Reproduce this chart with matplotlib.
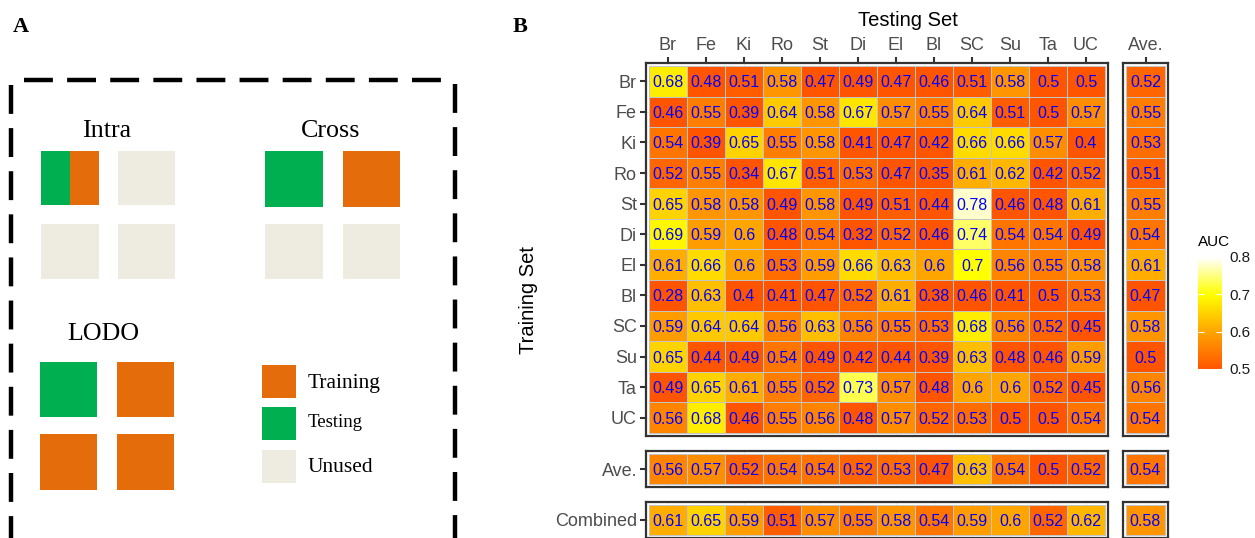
import numpy as np
import matplotlib
matplotlib.use("Agg")
import matplotlib.pyplot as plt
from matplotlib.colors import LinearSegmentedColormap, Normalize
from matplotlib.patches import Rectangle
from matplotlib.cm import ScalarMappable

# ---------------- data ----------------
datasets = ["Br", "Fe", "Ki", "Ro", "St", "Di", "El", "Bl", "SC", "Su", "Ta", "UC"]

auc_br = [0.68, 0.48, 0.51, 0.58, 0.47, 0.49, 0.47, 0.46, 0.51, 0.58, 0.50, 0.50]
auc_fe = [0.46, 0.55, 0.39, 0.64, 0.58, 0.67, 0.57, 0.55, 0.64, 0.51, 0.50, 0.57]
auc_ki = [0.54, 0.39, 0.65, 0.55, 0.58, 0.41, 0.47, 0.42, 0.66, 0.66, 0.57, 0.40]
auc_ro = [0.52, 0.55, 0.34, 0.67, 0.51, 0.53, 0.47, 0.35, 0.61, 0.62, 0.42, 0.52]
auc_st = [0.65, 0.58, 0.58, 0.49, 0.58, 0.49, 0.51, 0.44, 0.78, 0.46, 0.48, 0.61]
auc_di = [0.69, 0.59, 0.60, 0.48, 0.54, 0.32, 0.52, 0.46, 0.74, 0.54, 0.54, 0.49]
auc_el = [0.61, 0.66, 0.60, 0.53, 0.59, 0.66, 0.63, 0.60, 0.70, 0.56, 0.55, 0.58]
auc_bl = [0.28, 0.63, 0.40, 0.41, 0.47, 0.52, 0.61, 0.38, 0.46, 0.41, 0.50, 0.53]
auc_sc = [0.59, 0.64, 0.64, 0.56, 0.63, 0.56, 0.55, 0.53, 0.68, 0.56, 0.52, 0.45]
auc_su = [0.65, 0.44, 0.49, 0.54, 0.49, 0.42, 0.44, 0.39, 0.63, 0.48, 0.46, 0.59]
auc_ta = [0.49, 0.65, 0.61, 0.55, 0.52, 0.73, 0.57, 0.48, 0.60, 0.60, 0.52, 0.45]
auc_uc = [0.56, 0.68, 0.46, 0.55, 0.56, 0.48, 0.57, 0.52, 0.53, 0.50, 0.50, 0.54]
auc_rows = [auc_br, auc_fe, auc_ki, auc_ro, auc_st, auc_di,
            auc_el, auc_bl, auc_sc, auc_su, auc_ta, auc_uc]

train_ave = [0.52, 0.55, 0.53, 0.51, 0.55, 0.54, 0.61, 0.47, 0.58, 0.50, 0.56, 0.54]
test_ave = [0.56, 0.57, 0.52, 0.54, 0.54, 0.52, 0.53, 0.47, 0.63, 0.54, 0.50, 0.52]
combined = [0.61, 0.65, 0.59, 0.51, 0.57, 0.55, 0.58, 0.54, 0.59, 0.60, 0.52, 0.62]
overall_ave = [0.54]
combined_ave = [0.58]

auc_limits = (0.5, 0.8)
auc_ticks = [0.5, 0.6, 0.7, 0.8]

# ---------------- styling ----------------
W, H = 1255, 538
SANS = ["Liberation Sans", "DejaVu Sans"]
SERIF = ["Liberation Serif", "DejaVu Serif"]
GREEN, ORANGE, GREY = "#00B050", "#E46C0A", "#EEECE1"
cmap = LinearSegmentedColormap.from_list(
    "auc", [(0.0, "#FF5500"), (1 / 3, "#FFA500"), (2 / 3, "#FFFF00"), (1.0, "#FFFFFF")])
norm = Normalize(*auc_limits, clip=True)

fig = plt.figure(figsize=(W / 100, H / 100), dpi=100)
fig.patch.set_facecolor("white")


def ax_px(x0, y0, x1, y1):
    return fig.add_axes([x0 / W, 1 - y1 / H, (x1 - x0) / W, (y1 - y0) / H])


def fmt(v):
    return f"{round(v, 2):g}"


def heat(ax, values, pad_px=3):
    vals = np.atleast_2d(np.asarray(values, float))
    nr, nc = vals.shape
    ax.set_axisbelow(True)
    ax.pcolormesh(np.arange(nc + 1) - 0.5, np.arange(nr + 1) - 0.5, vals,
                  cmap=cmap, norm=norm, edgecolors="#C4C4C4", linewidth=0.6, zorder=2)
    for i in range(nr):
        for j in range(nc):
            ax.text(j, i, fmt(vals[i, j]), ha="center", va="center_baseline",
                    color="#0000FF", fontsize=11.5, family=SANS, zorder=3)
    bb = ax.get_position()
    wpx, hpx = bb.width * W, bb.height * H
    cw = (wpx - 2 * pad_px) / nc
    ch = (hpx - 2 * pad_px) / nr
    ax.set_xlim(-0.5 - pad_px / cw, nc - 0.5 + pad_px / cw)
    ax.set_ylim(nr - 0.5 + pad_px / ch, -0.5 - pad_px / ch)
    for s in ax.spines.values():
        s.set_color("#333333")
        s.set_linewidth(1.6)
    ax.set_xticks(range(nc))
    ax.set_yticks(range(nr))
    ax.grid(True, color="#EBEBEB", lw=0.6, zorder=0)
    ax.tick_params(length=4, width=1.5, color="#333333", labelcolor="#4D4D4D",
                   labelsize=13, pad=2.5)
    ax.tick_params(axis="x", bottom=False, labelbottom=False)
    ax.tick_params(axis="y", left=False, labelleft=False)


# ---------------- Panel A (schematic) ----------------
axA = fig.add_axes([0, 0, 1, 1], zorder=0)
axA.set_xlim(0, W)
axA.set_ylim(H, 0)
axA.axis("off")

dash = dict(color="black", lw=3.2, ls=(0, (6.5, 3.2)), solid_capstyle="butt")
axA.plot([24, 455], [80, 80], **dash)
axA.plot([11, 11], [85, 560], **dash)
axA.plot([455, 455], [84, 560], **dash)

squares = [
    (41, 151, 29, 54, GREEN), (70, 151, 29, 54, ORANGE), (118, 151, 57, 54, GREY),
    (41, 224, 58, 55, GREY), (118, 224, 57, 55, GREY),
    (265, 151, 58, 56, GREEN), (343, 151, 57, 56, ORANGE),
    (265, 224, 58, 55, GREY), (343, 224, 57, 55, GREY),
    (40, 362, 57, 55, GREEN), (117, 362, 57, 55, ORANGE),
    (40, 434, 57, 56, ORANGE), (117, 434, 57, 56, ORANGE),
    (262, 365, 34, 33, ORANGE), (262, 407, 34, 33, GREEN), (262, 450, 34, 33, GREY),
]
for x, y, w, h, c in squares:
    axA.add_patch(Rectangle((x, y), w, h, facecolor=c, edgecolor="none"))

axA.text(107, 137, "Intra", ha="center", va="baseline", fontsize=18.7, family=SERIF)
axA.text(331, 137, "Cross", ha="center", va="baseline", fontsize=18.7, family=SERIF)
axA.text(103, 340, "LODO", ha="center", va="baseline", fontsize=18.7, family=SERIF)
axA.text(308, 388, "Training", ha="left", va="baseline", fontsize=15.5, family=SERIF)
axA.text(308, 427, "Testing", ha="left", va="baseline", fontsize=13.5, family=SERIF)
axA.text(308, 472, "Unused", ha="left", va="baseline", fontsize=15.5, family=SERIF)
axA.text(13, 32, "A", ha="left", va="baseline", fontsize=16, fontweight="bold", family=SERIF)
axA.text(513, 32, "B", ha="left", va="baseline", fontsize=16, fontweight="bold", family=SERIF)

# ---------------- Panel B (heatmaps) ----------------
ax_main = ax_px(646, 63, 1108, 436)
heat(ax_main, auc_rows)
ax_main.tick_params(axis="x", top=True, labeltop=True)
ax_main.tick_params(axis="y", left=True, labelleft=True)
ax_main.set_xticklabels(datasets)
ax_main.set_yticklabels(datasets)

ax_tave = ax_px(1123, 63, 1168, 436)
heat(ax_tave, np.asarray(train_ave)[:, None])
ax_tave.tick_params(axis="x", top=True, labeltop=True)
ax_tave.set_xticklabels(["Ave."])

ax_rave = ax_px(646, 451, 1108, 487)
heat(ax_rave, [test_ave])
ax_rave.tick_params(axis="y", left=True, labelleft=True)
ax_rave.set_yticklabels(["Ave."])

ax_comb = ax_px(646, 502, 1108, 538)
heat(ax_comb, [combined])
ax_comb.tick_params(axis="y", left=True, labelleft=True)
ax_comb.set_yticklabels(["Combined"])

ax_aa = ax_px(1123, 451, 1168, 487)
heat(ax_aa, [overall_ave])
ax_cc = ax_px(1123, 502, 1168, 538)
heat(ax_cc, [combined_ave])

for a in (ax_main, ax_tave, ax_rave, ax_comb):
    for lab in a.get_xticklabels() + a.get_yticklabels():
        lab.set_family(SANS)

fig.text(908 / W, 1 - 26 / H, "Testing Set", ha="center", va="baseline",
         fontsize=14.5, family=SANS, color="black")
fig.text(529 / W, 1 - 300 / H, "Training Set", ha="center", va="center",
         rotation=90, fontsize=14.5, family=SANS, color="black")

# colourbar
cax = ax_px(1198, 257, 1222, 369)
cb = fig.colorbar(ScalarMappable(norm=norm, cmap=cmap), cax=cax, ticks=auc_ticks)
cb.outline.set_visible(False)
cb.set_ticklabels([fmt(t) for t in auc_ticks])
cax.tick_params(axis="y", direction="in", left=True, right=True, color="white",
                length=4.5, width=0.8, labelcolor="#1A1A1A", labelsize=11, pad=5)
for lab in cax.get_yticklabels():
    lab.set_family(SANS)
fig.text(1198 / W, 1 - 246 / H, "AUC", ha="left", va="baseline",
         fontsize=11, family=SANS, color="black")

fig.savefig("out.png", dpi=100, facecolor="white")
